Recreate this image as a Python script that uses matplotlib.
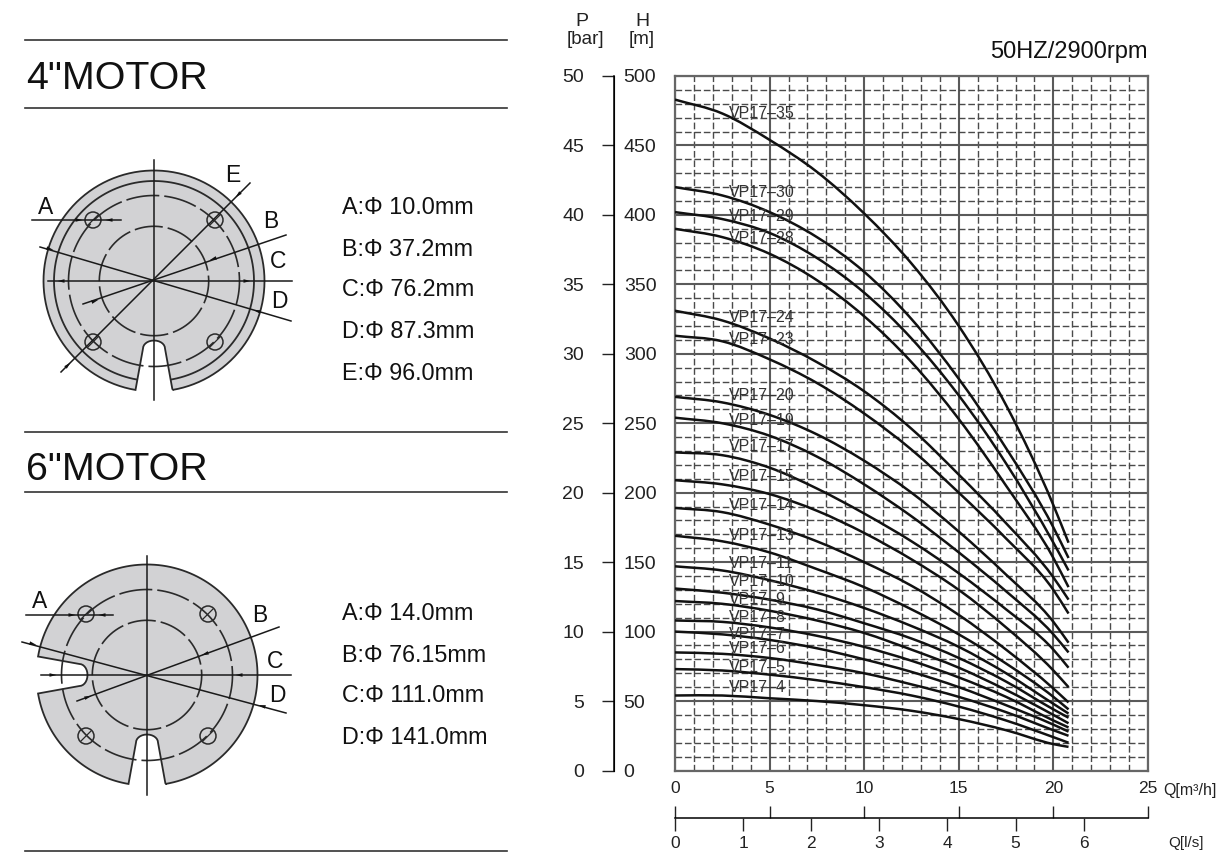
import numpy as np
import matplotlib
matplotlib.use('Agg')
import matplotlib.pyplot as plt
from matplotlib.ticker import MultipleLocator
from matplotlib.patches import Polygon, Circle, PathPatch
from matplotlib.path import Path

plt.rcParams['font.family'] = ['Liberation Sans', 'DejaVu Sans']

W, H = 1217, 852

# flow points the curves were read at, m3/h
flow = [0, 2.5, 5, 7.5, 10, 12.5, 15, 17.5, 20, 20.8]

vp35 = [483, 473, 454, 431, 401, 365, 320, 263, 191, 164]
vp30 = [420, 414, 402, 384, 359, 325, 282, 232, 175, 153]
vp29 = [402, 397, 387, 369, 344, 311, 270, 221, 164, 144]
vp28 = [390, 384, 372, 353, 327, 294, 253, 205, 153, 132]
vp24 = [331, 324, 311, 294, 273, 246, 213, 178, 139, 123]
vp23 = [313, 309, 296, 279, 257, 231, 200, 167, 130, 113]
vp20 = [269, 265, 256, 242, 223, 200, 172, 141, 107, 92]
vp19 = [254, 250, 241, 226, 206, 183, 157, 129, 98, 85]
vp17 = [229, 227, 218, 203, 185, 165, 142, 116, 87, 74]
vp15 = [209, 206, 199, 187, 171, 152, 130, 103, 72, 60]
vp14 = [189, 186, 177, 165, 150, 133, 112, 87, 59, 49]
vp13 = [169, 165, 157, 145, 132, 116, 98, 77, 53, 44]
vp11 = [147, 144, 137, 128, 117, 104, 89, 70, 48, 41]
vp10 = [131, 128, 123, 116, 106, 95, 81, 64, 44, 38]
vp9 = [122, 120, 115, 108, 99, 87, 74, 58, 40, 34]
vp8 = [108, 107, 103, 97, 89, 79, 67, 53, 36, 31]
vp7 = [100, 98, 94, 88, 80, 71, 60, 47, 33, 28]
vp6 = [85, 84, 81, 76, 70, 62, 53, 42, 29, 25]
vp5 = [73, 72, 69, 65, 60, 54, 46, 36, 24, 20]
vp4 = [54, 54, 52, 50, 47, 43, 37, 29, 19, 17]

curves = [vp35, vp30, vp29, vp28, vp24, vp23, vp20, vp19, vp17, vp15,
          vp14, vp13, vp11, vp10, vp9, vp8, vp7, vp6, vp5, vp4]
names = ['VP17–35', 'VP17–30', 'VP17–29', 'VP17–28', 'VP17–24', 'VP17–23', 'VP17–20',
         'VP17–19', 'VP17–17', 'VP17–15', 'VP17–14', 'VP17–13', 'VP17–11', 'VP17–10',
         'VP17–9', 'VP17–8', 'VP17–7', 'VP17–6', 'VP17–5', 'VP17–4']
name_heads = [473, 416, 399, 383, 326, 310, 270, 252, 233, 212,
              191, 169, 149, 136, 123, 110, 98, 88, 74, 60]

sizes_4 = ['A:Φ 10.0mm', 'B:Φ 37.2mm', 'C:Φ 76.2mm', 'D:Φ 87.3mm', 'E:Φ 96.0mm']
sizes_6 = ['A:Φ 14.0mm', 'B:Φ 76.15mm', 'C:Φ 111.0mm', 'D:Φ 141.0mm']

DARK = '#2a2a2a'
GREY = '#d2d2d4'


def arrowhead(ax, x, y, angle, size=7):
    a = np.radians(angle)
    d = np.array([np.cos(a), np.sin(a)])
    n = np.array([-d[1], d[0]])
    p = np.array([x, y])
    pts = [p + d * size / 2, p - d * size / 2 + n * 1.8, p - d * size / 2 - n * 1.8]
    ax.add_patch(Polygon(pts, closed=True, fc='#111111', ec='none', zorder=6))


def smooth_curve(ax, xs, ys, **kw):
    # bezier segments through the read points, so the line has no corners
    m = np.gradient(np.array(ys, float), np.array(xs, float))
    verts = [(xs[0], ys[0])]
    codes = [Path.MOVETO]
    for i in range(len(xs) - 1):
        dx = xs[i + 1] - xs[i]
        verts += [(xs[i] + dx / 3, ys[i] + m[i] * dx / 3),
                  (xs[i + 1] - dx / 3, ys[i + 1] - m[i + 1] * dx / 3),
                  (xs[i + 1], ys[i + 1])]
        codes += [Path.CURVE4, Path.CURVE4, Path.CURVE4]
    ax.add_patch(PathPatch(Path(verts, codes), fc='none', **kw))


def slot_profile(cx, cy, t0, R, w, ht, tip):
    # walks round one keyway, going the way the angle grows
    t = np.radians(t0)
    d = np.array([np.cos(t), np.sin(t)])
    n = np.array([-np.sin(t), np.cos(t)])
    u_out = np.sqrt(R**2 - w**2)
    u_s = tip + 8
    pts = [(u_out, -w)]
    for phi in np.linspace(0, np.pi, 15):
        pts.append((u_s - (u_s - tip) * np.sin(phi), -ht * np.cos(phi)))
    pts.append((u_out, w))
    c = np.array([cx, cy])
    return [c + d * u + n * v for u, v in pts]


def motor_disc(ax, cx, cy, R, slots, inner_solid=None):
    # slots are angles in screen coords: 90 is down, 180 is left
    w, ht, tip = 18.5, 11, 59.5
    a = np.degrees(np.arcsin(w / R))
    pts = []
    order = sorted(slots)
    angles = order + [order[0] + 360]
    pts += slot_profile(cx, cy, order[0], R, w, ht, tip)
    for t0, t1 in zip(angles[:-1], angles[1:]):
        arc = np.radians(np.linspace(t0 + a, t1 - a, 120))
        pts += [np.array([cx + R * np.cos(x), cy + R * np.sin(x)]) for x in arc]
        if t1 < 360:
            pts += slot_profile(cx, cy, t1, R, w, ht, tip)
    ax.add_patch(Polygon(pts, closed=True, fc=GREY, ec=DARK, lw=1.3, zorder=2))
    if inner_solid:
        b = np.degrees(np.arcsin(17 / inner_solid))
        t = np.radians(np.linspace(90 + b, 450 - b, 300))
        ax.plot(cx + inner_solid * np.cos(t), cy + inner_solid * np.sin(t), color=DARK, lw=1.3, zorder=3)


def dashed_circle(ax, cx, cy, r, start=0, dash=15):
    t = np.radians(np.linspace(start, start + 360, 300))
    ax.plot(cx + r * np.cos(t), cy + r * np.sin(t), color=DARK, lw=1.2,
            ls=(0, (dash, 3)), zorder=3)


def motor_drawing(ax, cx, cy, slots, inner_solid, lines, heads, letters):
    motor_disc(ax, cx, cy, 110.5, slots, inner_solid)
    dashed_circle(ax, cx, cy, 85.5, 20, 20)
    dashed_circle(ax, cx, cy, 54.7, 40, 17)
    for sx in (-61, 61):
        for sy in (-61, 61):
            ax.add_patch(Circle((cx + sx, cy + sy), 8, fc='none', ec=DARK, lw=1.1, zorder=4))
            ax.plot([cx + sx - 5, cx + sx + 5], [cy + sy + 5, cy + sy - 5], color=DARK, lw=0.9, zorder=4)
    for (x0, y0, x1, y1) in lines:
        ax.plot([x0, x1], [y0, y1], color='#1a1a1a', lw=1.1, zorder=5)
    for (x, y, ang) in heads:
        arrowhead(ax, x, y, ang)
    for (s, x, y) in letters:
        ax.text(x, y, s, fontsize=16.5, ha='center', va='center', color='#111111', zorder=7)


fig = plt.figure(figsize=(W / 100, H / 100), dpi=100)

# left part of the sheet in pixel coords
sheet = fig.add_axes([0, 0, 1, 1])
sheet.set_xlim(0, W)
sheet.set_ylim(H, 0)
sheet.axis('off')

for y in (40, 108, 432, 492, 851):
    sheet.plot([25, 507], [y, y], color='#333333', lw=1.2)
sheet.text(26, 89, '4"MOTOR', fontsize=28.4, ha='left', va='baseline', color='#111111')
sheet.text(26, 480, '6"MOTOR', fontsize=28.4, ha='left', va='baseline', color='#111111')

for i, s in enumerate(sizes_4):
    sheet.text(342, [207, 249, 290, 332, 373][i], s, fontsize=16.8, ha='left', va='center', color='#111111')
for i, s in enumerate(sizes_6):
    sheet.text(342, [614, 655, 696, 738][i], s, fontsize=16.8, ha='left', va='center', color='#111111')

motor_drawing(sheet, 154, 281, [90], 100,
              [(154, 160, 154, 400), (48, 281, 292, 281), (40, 247, 291, 321),
               (83, 304, 286, 235), (61, 372, 250, 183), (32, 220, 121, 220)],
              [(79, 220, 0), (109, 220, 180), (50, 249, 16), (257, 311, 196),
               (61, 281, 180), (247, 281, 0), (213, 259, 161), (95, 301, 341),
               (238, 195, 135), (68, 365, 315)],
              [('A', 46, 208), ('E', 233, 176), ('B', 271, 222), ('C', 278, 262), ('D', 279, 302)])
motor_drawing(sheet, 147, 675, [90, 180], None,
              [(147, 556, 147, 795), (41, 675, 291, 675), (22, 642, 286, 713),
               (77, 701, 279, 627), (26, 615, 113, 615)],
              [(72, 615, 0), (102, 615, 180), (33, 644, 15), (262, 706, 195),
               (53, 675, 0), (239, 675, 180), (205, 654, 160), (88, 697, 340)],
              [('A', 40, 602), ('B', 260, 616), ('C', 275, 661), ('D', 277, 696)])

# pump curves
ax = fig.add_axes([675 / W, (H - 770.5) / H, 473 / W, 694.5 / H])
ax.set_xlim(0, 25)
ax.set_ylim(0, 500)
ax.patch.set_alpha(0)
ax.xaxis.set_major_locator(MultipleLocator(5))
ax.xaxis.set_minor_locator(MultipleLocator(1))
ax.yaxis.set_major_locator(MultipleLocator(50))
ax.yaxis.set_minor_locator(MultipleLocator(10))
ax.grid(which='major', color='#5a5a5a', lw=1.5)
ax.grid(which='minor', color='#4a4a4a', lw=1.0, ls=(0, (4.8, 2)))
ax.set_axisbelow(True)
ax.tick_params(which='both', length=0, labelbottom=False, labelleft=False)
for s in ax.spines.values():
    s.set_color('#666666')
    s.set_linewidth(1.6)

for vals in curves:
    smooth_curve(ax, flow, vals, ec='#111111', lw=1.8, capstyle='butt', zorder=3)
for name, y in zip(names, name_heads):
    ax.text(2.85, y, name, fontsize=11.5, ha='left', va='center', color='#333333', zorder=4)

# pressure and head scales share one spine
y_spine = (614 - 675) / 473
sec_p = ax.secondary_yaxis(y_spine, functions=(lambda h: h / 10, lambda p: p * 10))
sec_p.set_alignment('left')
sec_p.set_location(y_spine)
sec_p.set_yticks(np.arange(0, 51, 5))
sec_p.tick_params(length=8.5, width=1, pad=13, labelsize=14, colors='#222222')
sec_p.spines['left'].set_linewidth(1.1)

sec_h = ax.secondary_yaxis(y_spine)
sec_h.set_alignment('right')
sec_h.set_location(y_spine)
sec_h.set_yticks(np.arange(0, 501, 50))
sec_h.tick_params(length=0, pad=7, labelsize=14, colors='#222222')

x_spine = -(818 - 770.5) / 694.5
sec_q = ax.secondary_xaxis(x_spine)
sec_q.set_alignment('top')
sec_q.set_location(x_spine)
sec_q.set_xticks(np.arange(0, 26, 5))
sec_q.tick_params(length=9, width=1, pad=6.5, labelsize=12.5, colors='#222222')
sec_q.spines['top'].set_linewidth(1.1)

sec_l = ax.secondary_xaxis(x_spine, functions=(lambda q: q / 3.6, lambda l: l * 3.6))
sec_l.set_alignment('bottom')
sec_l.set_location(x_spine)
sec_l.set_xticks(np.arange(0, 7))
sec_l.tick_params(length=9, width=1, pad=4, labelsize=12.5, colors='#222222')
sec_l.spines['bottom'].set_visible(False)

sheet.text(582, 21, 'P', fontsize=14, ha='center', va='center', color='#222222')
sheet.text(585, 39, '[bar]', fontsize=13.5, ha='center', va='center', color='#222222')
sheet.text(642, 21, 'H', fontsize=14, ha='center', va='center', color='#222222')
sheet.text(642, 39, '[m]', fontsize=13.5, ha='center', va='center', color='#222222')
sheet.text(1148, 52, '50HZ/2900rpm', fontsize=17, ha='right', va='center', color='#111111')
sheet.text(1163, 790, 'Q[m³/h]', fontsize=11.5, ha='left', va='center', color='#222222')
sheet.text(1168, 843, 'Q[l/s]', fontsize=11, ha='left', va='center', color='#222222')

fig.savefig('out.png', dpi=100)
